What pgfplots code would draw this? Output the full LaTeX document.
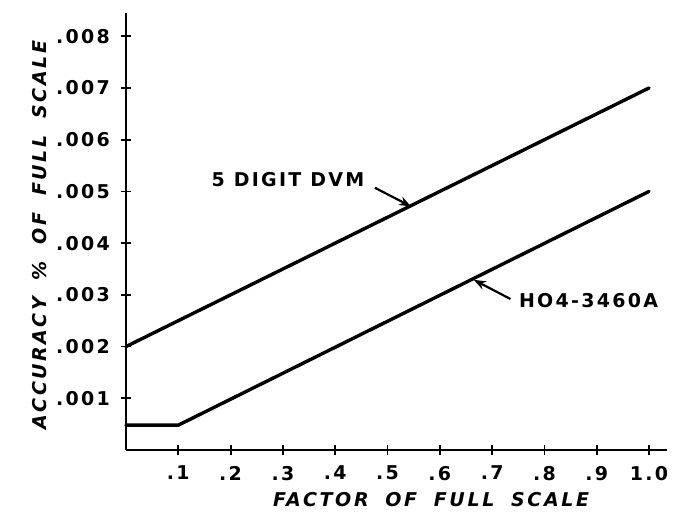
\documentclass[border=0pt]{standalone}
\usepackage{fontspec}
\usepackage{pgfplots}
\pgfplotsset{compat=1.18}
\usetikzlibrary{arrows.meta}
\newfontfamily\lbl[LetterSpace=12]{DejaVu Sans Bold}
\newfontfamily\lblit[LetterSpace=14,WordSpace=1.8]{DejaVu Sans Bold Oblique}

\begin{document}
\begin{tikzpicture}
  \useasboundingbox (-63pt,-33.5pt) rectangle (276pt,225pt);
  \begin{axis}[
      scale only axis,
      width=270.5pt,
      height=218.5pt,
      xmin=0, xmax=1.0344,
      ymin=0, ymax=0.00845,
      axis x line=bottom,
      axis y line=left,
      axis line style={-, line width=1pt},
      tick align=center,
      major tick length=5pt,
      every tick/.style={black, line width=0.9pt},
      xtick={0.1,0.2,0.3,0.4,0.5,0.6,0.7,0.8,0.9,1.0},
      xticklabels={.1,.2,.3,.4,.5,.6,.7,.8,.9,1.0},
      ytick={0.001,0.002,0.003,0.004,0.005,0.006,0.007,0.008},
      yticklabels={.001,.002,.003,.004,.005,.006,.007,.008},
      scaled y ticks=false,
      ticklabel style={font=\lbl\fontsize{9.5}{11}\selectfont},
      xticklabel style={yshift=-2pt},
      yticklabel style={xshift=-2pt},
      xlabel={FACTOR OF FULL SCALE},
      ylabel={ACCURACY \% OF FULL SCALE},
      label style={font=\lblit\fontsize{9.5}{11}\selectfont},
      xlabel style={at={(axis description cs:0.564,-0.114)}, anchor=center},
      ylabel style={at={(axis description cs:-0.159,0.492)}, anchor=center},
      clip=false,
    ]
    % 5 digit DVM
    \addplot[black, line width=1.7pt, line cap=round] coordinates {
      (0,0.002) (1.0,0.007)
    };
    % HO4-3460A
    \addplot[black, line width=1.7pt, line cap=round, line join=round] coordinates {
      (0,0.00048) (0.1,0.00048) (1.0,0.005)
    };
    \node[font=\lbl\fontsize{9.5}{11}\selectfont, anchor=east] at (axis cs:0.469,0.00522) {5 DIGIT DVM};
    \draw[line width=1.1pt, -{Stealth[length=6pt,width=4.5pt]}] (axis cs:0.476,0.00507) -- (axis cs:0.545,0.00471);
    \node[font=\lbl\fontsize{9.5}{11}\selectfont, anchor=west] at (axis cs:0.738,0.00288) {HO4-3460A};
    \draw[line width=1.1pt, -{Stealth[length=6pt,width=4.5pt]}] (axis cs:0.735,0.00292) -- (axis cs:0.665,0.00329);
  \end{axis}
\end{tikzpicture}
\end{document}
